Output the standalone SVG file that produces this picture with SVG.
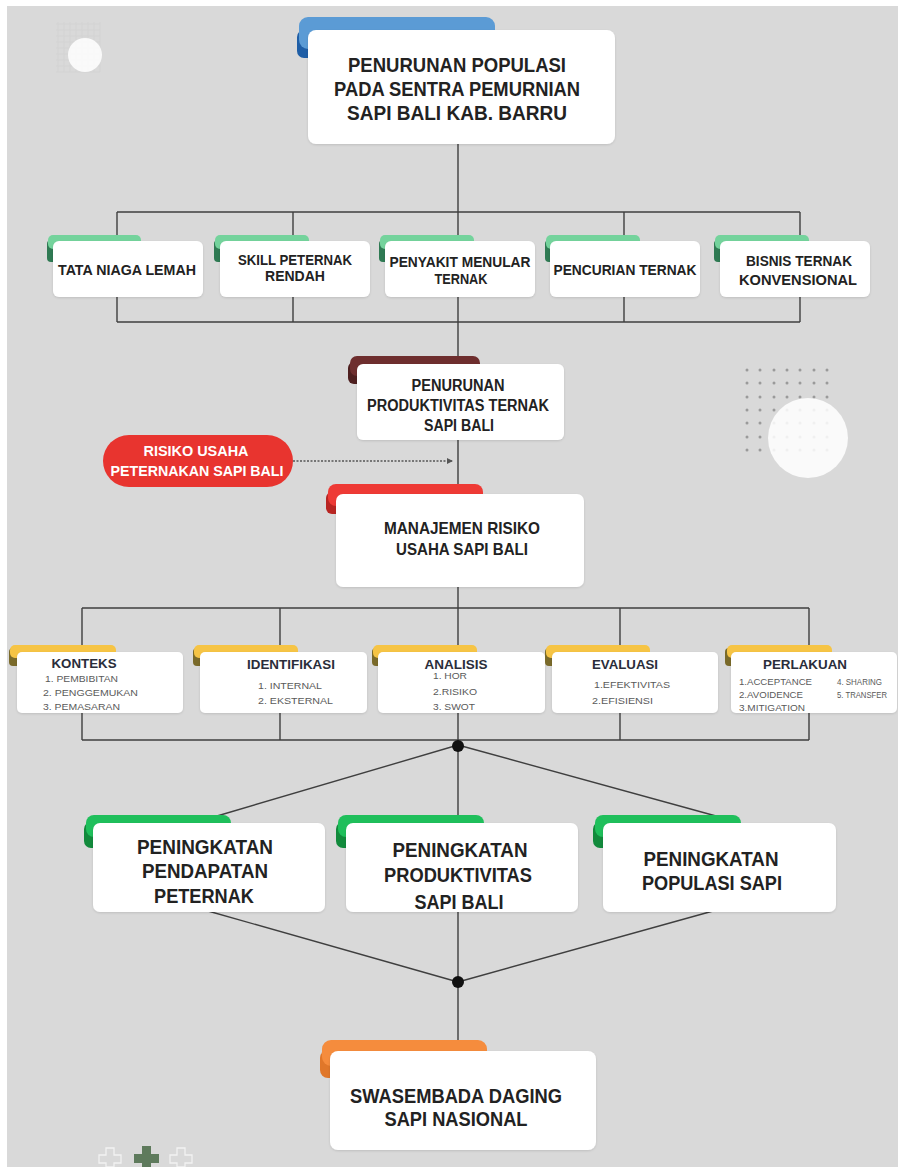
<svg xmlns="http://www.w3.org/2000/svg" width="898" height="1167" viewBox="0 0 898 1167">
<defs>
<style>
.box{fill:#ffffff}
.h{font-family:"Liberation Sans",Arial,sans-serif;font-weight:bold;fill:#222222;text-anchor:middle}
.h4{font-family:"Liberation Sans",Arial,sans-serif;font-weight:bold;fill:#2a2d3a;text-anchor:middle;font-size:13px}
.it{font-family:"Liberation Sans",Arial,sans-serif;fill:#5a5a5a;font-size:9.5px}
.ln{stroke:#3f3f3f;stroke-width:1.4;fill:none}
.dot{fill:#9a9a9a}
.w{fill:#ffffff}
</style>
<filter id="sh" x="-10%" y="-10%" width="120%" height="130%">
<feDropShadow dx="0" dy="1" stdDeviation="1.2" flood-color="#000" flood-opacity="0.12"/>
</filter>
<marker id="arr" markerWidth="6" markerHeight="6" refX="5" refY="3" orient="auto" markerUnits="userSpaceOnUse">
<path d="M0,0 L6,3 L0,6 z" fill="#555"/>
</marker>
</defs>
<rect x="0" y="0" width="898" height="1167" fill="#ffffff"/>
<rect x="7" y="6" width="891" height="1161" fill="#d9d9d9"/>

<g id="decor">
<g stroke="#cfcfcf" stroke-width="0.8" opacity="0.7">
<path d="M56,24H100M56,30H100M56,36H100M56,42H100M56,48H100M56,54H100M56,60H100M56,66H100M56,72H100"/>
<path d="M58,22V72M64,22V72M70,22V72M76,22V72M82,22V72M88,22V72M94,22V72M100,22V72"/>
</g>
<circle cx="85" cy="55" r="17" fill="#ffffff" opacity="0.85"/>
<g class="dot">
<circle cx="747" cy="370" r="1.5"/><circle cx="760" cy="370" r="1.5"/><circle cx="774" cy="370" r="1.5"/><circle cx="787" cy="370" r="1.5"/><circle cx="800" cy="370" r="1.5"/><circle cx="814" cy="370" r="1.5"/><circle cx="827" cy="370" r="1.5"/>
<circle cx="747" cy="383" r="1.5"/><circle cx="760" cy="383" r="1.5"/><circle cx="774" cy="383" r="1.5"/><circle cx="787" cy="383" r="1.5"/><circle cx="800" cy="383" r="1.5"/><circle cx="814" cy="383" r="1.5"/><circle cx="827" cy="383" r="1.5"/>
<circle cx="747" cy="397" r="1.5"/><circle cx="760" cy="397" r="1.5"/><circle cx="774" cy="397" r="1.5"/><circle cx="787" cy="397" r="1.5"/><circle cx="800" cy="397" r="1.5"/><circle cx="814" cy="397" r="1.5"/><circle cx="827" cy="397" r="1.5"/>
<circle cx="747" cy="410" r="1.5"/><circle cx="760" cy="410" r="1.5"/><circle cx="774" cy="410" r="1.5"/><circle cx="787" cy="410" r="1.5"/><circle cx="800" cy="410" r="1.5"/><circle cx="814" cy="410" r="1.5"/><circle cx="827" cy="410" r="1.5"/>
<circle cx="747" cy="423" r="1.5"/><circle cx="760" cy="423" r="1.5"/><circle cx="774" cy="423" r="1.5"/><circle cx="787" cy="423" r="1.5"/><circle cx="800" cy="423" r="1.5"/><circle cx="814" cy="423" r="1.5"/><circle cx="827" cy="423" r="1.5"/>
<circle cx="747" cy="437" r="1.5"/><circle cx="760" cy="437" r="1.5"/><circle cx="774" cy="437" r="1.5"/><circle cx="787" cy="437" r="1.5"/><circle cx="800" cy="437" r="1.5"/><circle cx="814" cy="437" r="1.5"/><circle cx="827" cy="437" r="1.5"/>
<circle cx="747" cy="450" r="1.5"/><circle cx="760" cy="450" r="1.5"/><circle cx="774" cy="450" r="1.5"/><circle cx="787" cy="450" r="1.5"/><circle cx="800" cy="450" r="1.5"/><circle cx="814" cy="450" r="1.5"/><circle cx="827" cy="450" r="1.5"/>
</g>
<circle cx="808" cy="438" r="40" fill="#ffffff" opacity="0.85"/>
<g stroke-width="1.3">
<path d="M106,1148h8v7h7v8h-7v4h-8v-4h-7v-8h7z" fill="none" stroke="#f2f2f2"/>
<path d="M142,1146h9v8h8v9h-8v4h-9v-4h-8v-9h8z" fill="#5e7a5c"/>
<path d="M177,1148h8v7h7v8h-7v4h-8v-4h-7v-8h7z" fill="none" stroke="#f2f2f2"/>
</g>
</g>

<g id="connectors">
<path class="ln" d="M458,143V212M117,212H800M117,212V322M293,212V322M458,212V365M624,212V322M800,212V322M117,322H800"/>
<path class="ln" d="M458,440V494M458,587V745"/>
<path class="ln" d="M82,608H809M82,608V740M280,608V740M620,608V740M809,608V740M82,740H809"/>
<path d="M293,461H452" stroke="#555" stroke-width="1.3" stroke-dasharray="2 1.5" fill="none" marker-end="url(#arr)"/>
<path class="ln" d="M458,745L217,816M458,745V823M458,745L716,816"/>
<path class="ln" d="M208,911L458,982M458,911V982M713,911L458,982M458,982V1051"/>
<circle cx="458" cy="746" r="6" fill="#111"/>
<circle cx="458" cy="982" r="6" fill="#111"/>
</g>

<g id="n-top">
<rect x="297" y="30" width="26" height="28" rx="7" fill="#1f5ea6"/>
<rect x="299" y="17" width="196" height="32" rx="9" fill="#5b9bd5"/>
<rect class="box" x="308" y="30" width="307" height="114" rx="8" filter="url(#sh)"/>
<text class="h" font-size="20" x="457" y="72" textLength="218" lengthAdjust="spacingAndGlyphs">PENURUNAN POPULASI</text>
<text class="h" font-size="20" x="457" y="96" textLength="246" lengthAdjust="spacingAndGlyphs">PADA SENTRA PEMURNIAN</text>
<text class="h" font-size="20" x="457" y="120" textLength="220" lengthAdjust="spacingAndGlyphs">SAPI BALI KAB. BARRU</text>
</g>

<g id="n-tata">
<rect x="47" y="240" width="14" height="22" rx="4" fill="#2f7a53"/>
<rect x="48" y="235" width="93" height="14" rx="5" fill="#74d39c"/>
<rect class="box" x="53" y="241" width="150" height="56" rx="6" filter="url(#sh)"/>
<text class="h" font-size="14.5" x="127" y="275" textLength="138" lengthAdjust="spacingAndGlyphs">TATA NIAGA LEMAH</text>
</g>
<g id="n-skill">
<rect x="214" y="240" width="14" height="22" rx="4" fill="#2f7a53"/>
<rect x="215" y="235" width="94" height="14" rx="5" fill="#74d39c"/>
<rect class="box" x="220" y="241" width="150" height="56" rx="6" filter="url(#sh)"/>
<text class="h" font-size="14.5" x="295" y="265" textLength="114" lengthAdjust="spacingAndGlyphs">SKILL PETERNAK</text>
<text class="h" font-size="14.5" x="295" y="281" textLength="60" lengthAdjust="spacingAndGlyphs">RENDAH</text>
</g>
<g id="n-penyakit">
<rect x="379" y="240" width="14" height="22" rx="4" fill="#2f7a53"/>
<rect x="380" y="235" width="94" height="14" rx="5" fill="#74d39c"/>
<rect class="box" x="385" y="241" width="150" height="56" rx="6" filter="url(#sh)"/>
<text class="h" font-size="14.5" x="460" y="267" textLength="141" lengthAdjust="spacingAndGlyphs">PENYAKIT MENULAR</text>
<text class="h" font-size="14.5" x="461" y="284" textLength="53" lengthAdjust="spacingAndGlyphs">TERNAK</text>
</g>
<g id="n-pencurian">
<rect x="545" y="240" width="14" height="22" rx="4" fill="#2f7a53"/>
<rect x="546" y="235" width="94" height="14" rx="5" fill="#74d39c"/>
<rect class="box" x="550" y="241" width="150" height="56" rx="6" filter="url(#sh)"/>
<text class="h" font-size="14.5" x="625" y="275" textLength="143" lengthAdjust="spacingAndGlyphs">PENCURIAN TERNAK</text>
</g>
<g id="n-bisnis">
<rect x="714" y="240" width="14" height="22" rx="4" fill="#2f7a53"/>
<rect x="715" y="235" width="94" height="14" rx="5" fill="#74d39c"/>
<rect class="box" x="720" y="241" width="150" height="56" rx="6" filter="url(#sh)"/>
<text class="h" font-size="14.5" x="799" y="266" textLength="106" lengthAdjust="spacingAndGlyphs">BISNIS TERNAK</text>
<text class="h" font-size="14.5" x="798" y="285" textLength="118" lengthAdjust="spacingAndGlyphs">KONVENSIONAL</text>
</g>

<g id="n-produktivitas">
<rect x="348" y="362" width="20" height="22" rx="6" fill="#4e1f1f"/>
<rect x="350" y="356" width="130" height="20" rx="7" fill="#6e2e2e"/>
<rect class="box" x="357" y="364" width="207" height="76" rx="6" filter="url(#sh)"/>
<text class="h" font-size="16" x="458" y="391" textLength="93" lengthAdjust="spacingAndGlyphs">PENURUNAN</text>
<text class="h" font-size="16" x="458" y="411" textLength="182" lengthAdjust="spacingAndGlyphs">PRODUKTIVITAS TERNAK</text>
<text class="h" font-size="16" x="459" y="431" textLength="70" lengthAdjust="spacingAndGlyphs">SAPI BALI</text>
</g>

<g id="n-risiko">
<rect x="103" y="435" width="190" height="52" rx="26" fill="#e8342f"/>
<text class="h w" font-size="14.5" x="196" y="456" style="fill:#ffffff" textLength="105" lengthAdjust="spacingAndGlyphs">RISIKO USAHA</text>
<text class="h w" font-size="14.5" x="197" y="476" style="fill:#ffffff" textLength="173" lengthAdjust="spacingAndGlyphs">PETERNAKAN SAPI BALI</text>
</g>

<g id="n-manajemen">
<rect x="326" y="492" width="22" height="22" rx="6" fill="#b82522"/>
<rect x="328" y="484" width="155" height="22" rx="8" fill="#ee3a35"/>
<rect class="box" x="336" y="494" width="248" height="93" rx="7" filter="url(#sh)"/>
<text class="h" font-size="17" x="462" y="534" textLength="156" lengthAdjust="spacingAndGlyphs">MANAJEMEN RISIKO</text>
<text class="h" font-size="17" x="462" y="555" textLength="132" lengthAdjust="spacingAndGlyphs">USAHA SAPI BALI</text>
</g>

<g id="n-konteks">
<rect x="9" y="648" width="12" height="18" rx="4" fill="#7a6a2a"/>
<rect x="10" y="645" width="106" height="13" rx="5" fill="#f6c445"/>
<rect class="box" x="17" y="652" width="166" height="61" rx="5" filter="url(#sh)"/>
<text class="h4" x="84" y="668" textLength="65" lengthAdjust="spacingAndGlyphs">KONTEKS</text>
<text class="it" x="45" y="682" textLength="73" lengthAdjust="spacingAndGlyphs">1. PEMBIBITAN</text>
<text class="it" x="43" y="696" textLength="95" lengthAdjust="spacingAndGlyphs">2. PENGGEMUKAN</text>
<text class="it" x="43" y="710" textLength="77" lengthAdjust="spacingAndGlyphs">3. PEMASARAN</text>
</g>
<g id="n-identifikasi">
<rect x="193" y="648" width="12" height="18" rx="4" fill="#7a6a2a"/>
<rect x="194" y="645" width="104" height="13" rx="5" fill="#f6c445"/>
<rect class="box" x="200" y="652" width="167" height="61" rx="5" filter="url(#sh)"/>
<text class="h4" x="291" y="669" textLength="88" lengthAdjust="spacingAndGlyphs">IDENTIFIKASI</text>
<text class="it" x="258" y="689" textLength="64" lengthAdjust="spacingAndGlyphs">1. INTERNAL</text>
<text class="it" x="258" y="704" textLength="75" lengthAdjust="spacingAndGlyphs">2. EKSTERNAL</text>
</g>
<g id="n-analisis">
<rect x="372" y="648" width="12" height="18" rx="4" fill="#7a6a2a"/>
<rect x="373" y="645" width="104" height="13" rx="5" fill="#f6c445"/>
<rect class="box" x="378" y="652" width="167" height="61" rx="5" filter="url(#sh)"/>
<text class="h4" x="456" y="669" textLength="63" lengthAdjust="spacingAndGlyphs">ANALISIS</text>
<text class="it" x="433" y="679" textLength="34" lengthAdjust="spacingAndGlyphs">1. HOR</text>
<text class="it" x="433" y="695" textLength="44" lengthAdjust="spacingAndGlyphs">2.RISIKO</text>
<text class="it" x="433" y="710" textLength="42" lengthAdjust="spacingAndGlyphs">3. SWOT</text>
</g>
<g id="n-evaluasi">
<rect x="545" y="648" width="12" height="18" rx="4" fill="#7a6a2a"/>
<rect x="546" y="645" width="104" height="13" rx="5" fill="#f6c445"/>
<rect class="box" x="552" y="652" width="166" height="61" rx="5" filter="url(#sh)"/>
<text class="h4" x="625" y="669" textLength="66" lengthAdjust="spacingAndGlyphs">EVALUASI</text>
<text class="it" x="594" y="688" textLength="76" lengthAdjust="spacingAndGlyphs">1.EFEKTIVITAS</text>
<text class="it" x="592" y="704" textLength="61" lengthAdjust="spacingAndGlyphs">2.EFISIENSI</text>
</g>
<g id="n-perlakuan">
<rect x="725" y="648" width="12" height="18" rx="4" fill="#7a6a2a"/>
<rect x="727" y="645" width="105" height="13" rx="5" fill="#f6c445"/>
<rect class="box" x="731" y="652" width="166" height="61" rx="5" filter="url(#sh)"/>
<text class="h4" x="805" y="669" textLength="84" lengthAdjust="spacingAndGlyphs">PERLAKUAN</text>
<text class="it" x="739" y="685" textLength="73" lengthAdjust="spacingAndGlyphs">1.ACCEPTANCE</text>
<text class="it" x="739" y="698" textLength="64" lengthAdjust="spacingAndGlyphs">2.AVOIDENCE</text>
<text class="it" x="739" y="711" textLength="66" lengthAdjust="spacingAndGlyphs">3.MITIGATION</text>
<text class="it" x="837" y="685" textLength="45" lengthAdjust="spacingAndGlyphs">4. SHARING</text>
<text class="it" x="837" y="698" textLength="50" lengthAdjust="spacingAndGlyphs">5. TRANSFER</text>
</g>

<g id="n-pendapatan">
<rect x="84" y="822" width="22" height="26" rx="7" fill="#128a3c"/>
<rect x="86" y="815" width="145" height="22" rx="8" fill="#1fbf5b"/>
<rect class="box" x="93" y="823" width="232" height="89" rx="7" filter="url(#sh)"/>
<text class="h" font-size="21" x="205" y="854" textLength="136" lengthAdjust="spacingAndGlyphs">PENINGKATAN</text>
<text class="h" font-size="21" x="205" y="878" textLength="126" lengthAdjust="spacingAndGlyphs">PENDAPATAN</text>
<text class="h" font-size="21" x="204" y="903" textLength="100" lengthAdjust="spacingAndGlyphs">PETERNAK</text>
</g>
<g id="n-prod-sapi">
<rect x="336" y="822" width="22" height="26" rx="7" fill="#128a3c"/>
<rect x="338" y="815" width="146" height="22" rx="8" fill="#1fbf5b"/>
<rect class="box" x="346" y="823" width="232" height="89" rx="7" filter="url(#sh)"/>
<text class="h" font-size="21" x="460" y="857" textLength="135" lengthAdjust="spacingAndGlyphs">PENINGKATAN</text>
<text class="h" font-size="21" x="458" y="882" textLength="148" lengthAdjust="spacingAndGlyphs">PRODUKTIVITAS</text>
<text class="h" font-size="21" x="459" y="909" textLength="89" lengthAdjust="spacingAndGlyphs">SAPI BALI</text>
</g>
<g id="n-populasi">
<rect x="593" y="822" width="22" height="26" rx="7" fill="#128a3c"/>
<rect x="595" y="815" width="146" height="22" rx="8" fill="#1fbf5b"/>
<rect class="box" x="603" y="823" width="233" height="89" rx="7" filter="url(#sh)"/>
<text class="h" font-size="21" x="711" y="866" textLength="135" lengthAdjust="spacingAndGlyphs">PENINGKATAN</text>
<text class="h" font-size="21" x="712" y="890" textLength="140" lengthAdjust="spacingAndGlyphs">POPULASI SAPI</text>
</g>

<g id="n-swasembada">
<rect x="320" y="1050" width="24" height="28" rx="8" fill="#e0772a"/>
<rect x="322" y="1040" width="165" height="26" rx="9" fill="#f58c3d"/>
<rect class="box" x="330" y="1051" width="266" height="99" rx="8" filter="url(#sh)"/>
<text class="h" font-size="20" x="456" y="1103" textLength="212" lengthAdjust="spacingAndGlyphs">SWASEMBADA DAGING</text>
<text class="h" font-size="20" x="456" y="1126" textLength="143" lengthAdjust="spacingAndGlyphs">SAPI NASIONAL</text>
</g>
</svg>
